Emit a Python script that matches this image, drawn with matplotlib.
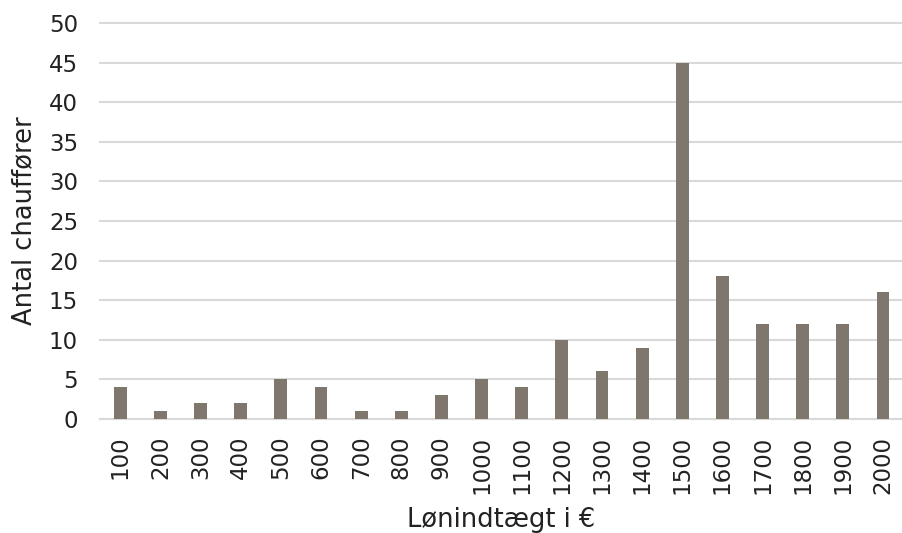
import matplotlib.pyplot as plt
import numpy as np

# lønindtægt i euro og antal chauffører pr. gruppe
loen = ['100', '200', '300', '400', '500', '600', '700', '800', '900', '1000',
        '1100', '1200', '1300', '1400', '1500', '1600', '1700', '1800', '1900', '2000']
antal = [4, 1, 2, 2, 5, 4, 1, 1, 3, 5, 4, 10, 6, 9, 45, 18, 12, 12, 12, 16]
y_ticks = [0, 5, 10, 15, 20, 25, 30, 35, 40, 45, 50]

plt.rcParams['font.family'] = ['DejaVu Sans']

fig = plt.figure(figsize=(9.03, 5.33), dpi=100)
ax = fig.add_axes([0.111, 0.214, 0.889, 0.743])

x = np.arange(len(loen))
ax.bar(x, antal, width=0.32, color='#7f776e', zorder=3)

ax.set_xlim(-0.5, len(loen) - 0.5)
ax.set_ylim(0, 50)
ax.set_yticks(y_ticks)
ax.set_xticks(x)
ax.set_xticklabels(loen, rotation=90)
ax.tick_params(axis='both', length=0, labelsize=16.5, colors='#222222')
ax.tick_params(axis='y', pad=16)
ax.tick_params(axis='x', pad=12)

ax.grid(axis='y', color='#d9d9d9', linewidth=1.5, zorder=0)
for line in ax.get_ygridlines():
    line.set_clip_on(False)
for side in ['top', 'right', 'left']:
    ax.spines[side].set_visible(False)
ax.spines['bottom'].set_color('#d9d9d9')
ax.spines['bottom'].set_linewidth(1.5)

ax.set_ylabel('Antal chauffører', fontsize=18.5, color='#222222')
ax.set_xlabel('Lønindtægt i €', fontsize=18.5, color='#222222')
ax.yaxis.set_label_coords(-0.078, 0.5)
ax.xaxis.set_label_coords(0.5, -0.222)

fig.savefig('out.png', dpi=100)
